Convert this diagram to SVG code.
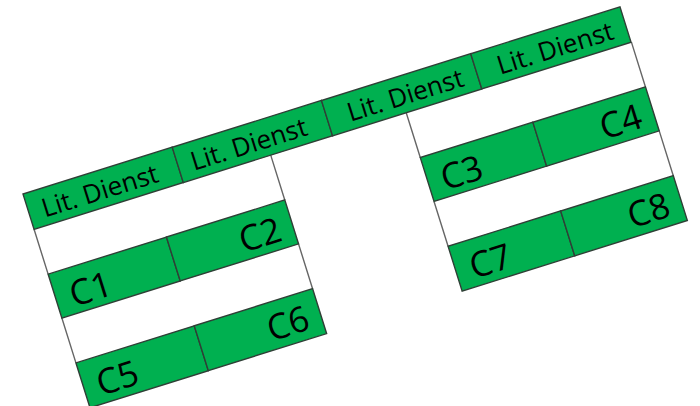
<svg xmlns="http://www.w3.org/2000/svg" width="700" height="406" viewBox="0 0 700 406">
<style>
.c{fill:#00b050;stroke:#2f3f36;stroke-width:1.4}
.e{fill:none;stroke:#666;stroke-width:1.4}
text{font-family:"Open Sans","Liberation Sans",sans-serif;fill:#000}
.h{font-size:26px}
.t{font-size:35px}
</style>
<rect width="700" height="406" fill="#fff"/>
<g transform="translate(23,194) rotate(-17.4)">
<g id="connectors">
<path class="e" d="M0 37V84M0 130V177M248 37V84M248 130V177M390 37V84M390 130V177M626 37V84M626 130V177"/>
</g>
<g id="h1"><rect class="c" width="156.4" height="37"/><text class="h" x="14" y="29">Lit. Dienst</text></g>
<g id="h2"><rect class="c" x="156.4" width="156.4" height="37"/><text class="h" x="170" y="29">Lit. Dienst</text></g>
<g id="h3"><rect class="c" x="312.8" width="156.4" height="37"/><text class="h" x="334" y="29">Lit. Dienst</text></g>
<g id="h4"><rect class="c" x="469.2" width="156.4" height="37"/><text class="h" x="491" y="29">Lit. Dienst</text></g>
<g id="C1"><rect class="c" y="84" width="124" height="46"/><text class="t" x="15" y="123">C1</text></g>
<g id="C2"><rect class="c" x="124" y="84" width="124" height="46"/><text class="t" x="235" y="122" text-anchor="end">C2</text></g>
<g id="C5"><rect class="c" y="177" width="124" height="47"/><text class="t" x="14" y="216">C5</text></g>
<g id="C6"><rect class="c" x="124" y="177" width="124" height="47"/><text class="t" x="235" y="215" text-anchor="end">C6</text></g>
<g id="C3"><rect class="c" x="390" y="84" width="118" height="46"/><text class="t" x="404" y="123">C3</text></g>
<g id="C4"><rect class="c" x="508" y="84" width="118" height="46"/><text class="t" x="613" y="122" text-anchor="end">C4</text></g>
<g id="C7"><rect class="c" x="390" y="177" width="118" height="47"/><text class="t" x="405" y="216">C7</text></g>
<g id="C8"><rect class="c" x="508" y="177" width="118" height="47"/><text class="t" x="613" y="215" text-anchor="end">C8</text></g>
</g>
</svg>
